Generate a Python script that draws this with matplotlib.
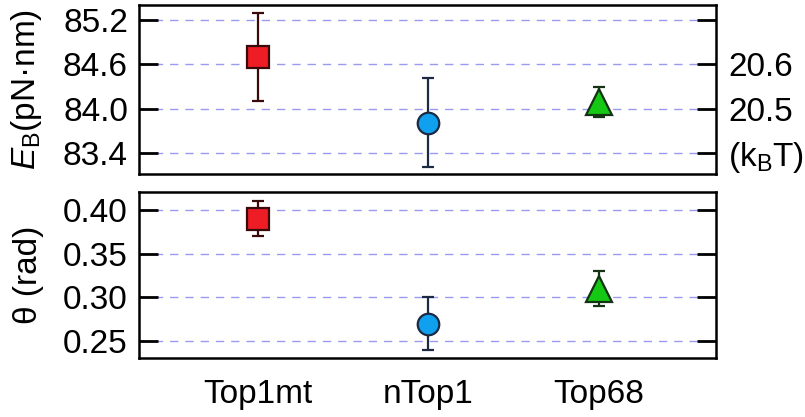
import numpy as np
import matplotlib
matplotlib.use("Agg")
import matplotlib.pyplot as plt

plt.rcParams['font.family'] = ['Liberation Sans', 'DejaVu Sans']
plt.rcParams['mathtext.fontset'] = 'custom'
plt.rcParams['mathtext.rm'] = 'Liberation Sans'
plt.rcParams['mathtext.it'] = 'Liberation Sans:italic'

# data
labels = ["Top1mt", "nTop1", "Top68"]
eb_mean = [84.70, 83.81, 84.09]
eb_err = [0.59, 0.60, 0.20]
theta_mean = [0.39, 0.27, 0.31]
theta_err = [0.02, 0.03, 0.02]

eb_ticks = [83.4, 84.0, 84.6, 85.2]
kbt_labels = [r"(k$_\mathregular{B}$T)", "20.5", "20.6", ""]
theta_ticks = [0.25, 0.30, 0.35, 0.40]

markers = ["s", "o", "^"]
msizes = [16, 15.5, 19]
faces = ["#ee1c25", "#0fa0ef", "#14c814"]
edges = ["#3a0a0a", "#1c2a44", "#143214"]

FS = 24

fig = plt.figure(figsize=(8.05, 4.17), dpi=100)
ax1 = fig.add_axes([139/805, 1-174/417, 577/805, 169/417])
ax2 = fig.add_axes([139/805, 1-358/417, 577/805, 166/417])

x = np.arange(len(labels))

def style(ax):
    for s in ax.spines.values():
        s.set_linewidth(1.8)
    ax.tick_params(axis='y', direction='in', length=14, width=2, labelsize=FS, pad=8)
    ax.tick_params(axis='x', length=0)
    ax.set_xlim(-0.70, 2.69)
    ax.grid(axis='y', color='#9a9aee', linestyle=(0, (6, 5)), linewidth=1.0)
    ax.set_axisbelow(True)

for i in range(len(labels)):
    ax1.errorbar(x[i], eb_mean[i], yerr=eb_err[i], fmt=markers[i], ms=msizes[i],
                 mfc=faces[i], mec=edges[i], mew=1.6, ecolor=edges[i],
                 elinewidth=1.6, capsize=4, capthick=1.6, zorder=3)
    ax2.errorbar(x[i], theta_mean[i], yerr=theta_err[i], fmt=markers[i], ms=msizes[i],
                 mfc=faces[i], mec=edges[i], mew=1.6, ecolor=edges[i],
                 elinewidth=1.6, capsize=4, capthick=1.6, zorder=3)

style(ax1)
style(ax2)

ax1.set_ylim(83.12, 85.40)
ax1.set_yticks(eb_ticks)
ax1.set_yticklabels([f"{t:.1f}" for t in eb_ticks])
ax1.set_xticks([])

# right-hand kBT scale
ax1r = ax1.twinx()
ax1r.set_ylim(ax1.get_ylim())
ax1r.set_yticks(eb_ticks)
ax1r.set_yticklabels(kbt_labels)
ax1r.tick_params(axis='y', direction='in', length=14, width=2, labelsize=FS, pad=9)
for s in ax1r.spines.values():
    s.set_visible(False)

ax1.set_ylabel(r"$\mathit{E}_\mathregular{B}$(pN·nm)", fontsize=FS)
ax1.yaxis.set_label_coords(-0.165, 0.5)

ax2.set_ylim(0.2306, 0.4206)
ax2.set_yticks(theta_ticks)
ax2.set_yticklabels([f"{t:.2f}" for t in theta_ticks])
ax2.tick_params(axis='y', right=True)
ax2.set_xticks(x)
ax2.set_xticklabels(labels, fontsize=FS)
ax2.tick_params(axis='x', pad=15)
ax2.set_ylabel("θ (rad)", fontsize=FS)
ax2.yaxis.set_label_coords(-0.165, 0.5)

fig.savefig("out.png", dpi=100)
